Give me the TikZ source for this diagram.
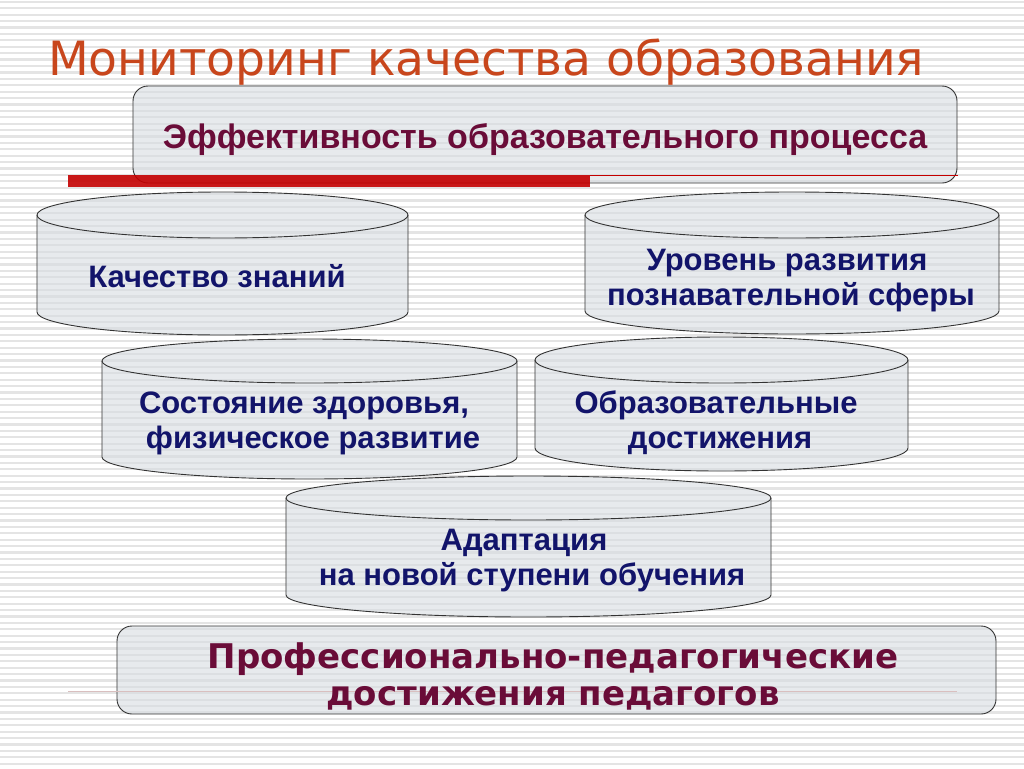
\documentclass[tikz,border=0pt]{standalone}
\usepackage{fontspec}
\newfontfamily\lsans{Liberation Sans}
\newfontfamily\dvs{DejaVu Sans}
\definecolor{titlecol}{HTML}{C8461C}
\definecolor{maroon}{HTML}{6A0C38}
\definecolor{navy}{HTML}{12146A}
\definecolor{stripe}{HTML}{E4E4E4}
\definecolor{shapefill}{HTML}{D8DCE2}
\definecolor{redbar}{HTML}{C40000}
\tikzset{
  shapebox/.style={fill=shapefill, fill opacity=0.6, draw=black!80, line width=0.9pt, draw opacity=1},
  cyltext/.style={text=navy, font=\lsans\bfseries\fontsize{31}{37}\selectfont, align=center, inner sep=0pt},
  boxtext/.style={text=maroon, align=center, inner sep=0pt},
}
% \cylinder{x1}{x2}{top centre y}{bottom centre y}{ry}
\newcommand{\cylinder}[5]{%
  \pgfmathsetmacro{\rx}{(#2-#1)/2}%
  \filldraw[shapebox] (#1,#3) -- (#1,#4) arc[start angle=180,end angle=0,x radius=\rx,y radius=#5]
     -- (#2,#3) arc[start angle=0,end angle=-180,x radius=\rx,y radius=#5] -- cycle;
  \draw[black!80, line width=0.9pt] (#1,#3) arc[start angle=180,end angle=0,x radius=\rx,y radius=#5];
}
\begin{document}
\begin{tikzpicture}[x=1pt,y=-1pt]
\useasboundingbox (0,0) rectangle (1024,768);
\fill[white] (0,0) rectangle (1024,768);
\foreach \yy in {2,8.4,...,768} \draw[stripe, line width=2.2pt] (0,\yy) -- (1024,\yy);

% title
\node[anchor=base west, inner sep=0pt, text=titlecol, font=\dvs\fontsize{47.2}{50}\selectfont] (title) at (48,75) {Мониторинг качества образования};

% top box
\draw[shapebox, rounded corners=15pt] (133,86) rectangle (957,183);
\node (topbox) at (545,135) {};
\node[boxtext, anchor=base, font=\lsans\bfseries\fontsize{34}{40}\selectfont] (toptext) at (545,148) {Эффективность образовательного процесса};
\fill[redbar, opacity=0.9] (68,175) rectangle (590,187);
\draw[redbar, line width=0.8pt] (590,175.5) -- (958,175.5);

% cylinders
\cylinder{37}{408}{215}{312}{23}
\cylinder{585}{999}{215}{311}{23}
\cylinder{102}{517}{361}{457}{22}
\cylinder{535}{908}{360}{448}{23}
\cylinder{286}{771}{498}{595}{22}

\node[cyltext, anchor=base] (c1) at (217,287) {Качество знаний};
\node[cyltext, anchor=base] (c2a) at (787,270) {Уровень развития};
\node[cyltext, anchor=base] (c2b) at (791,305) {познавательной сферы};
\node[cyltext, anchor=base] (c3a) at (304,413) {Состояние здоровья,};
\node[cyltext, anchor=base] (c3b) at (313,448) {физическое развитие};
\node[cyltext, anchor=base] (c4a) at (716,413) {Образовательные};
\node[cyltext, anchor=base] (c4b) at (720,448) {достижения};
\node[cyltext, anchor=base] (c5a) at (524,550) {Адаптация};
\node[cyltext, anchor=base] (c5b) at (532,585) {на новой ступени обучения};

% bottom box
\draw[shapebox, rounded corners=15pt] (117,626) rectangle (996,714);
\draw[red!25!gray!40, line width=0.8pt] (68,691) -- (957,691);
\node[boxtext, anchor=base, font=\dvs\bfseries\fontsize{34}{40}\selectfont] (b1) at (553,668) {Профессионально-педагогические};
\node[boxtext, anchor=base, font=\dvs\bfseries\fontsize{34}{40}\selectfont] (b2) at (553,705) {достижения педагогов};
\end{tikzpicture}
\end{document}
